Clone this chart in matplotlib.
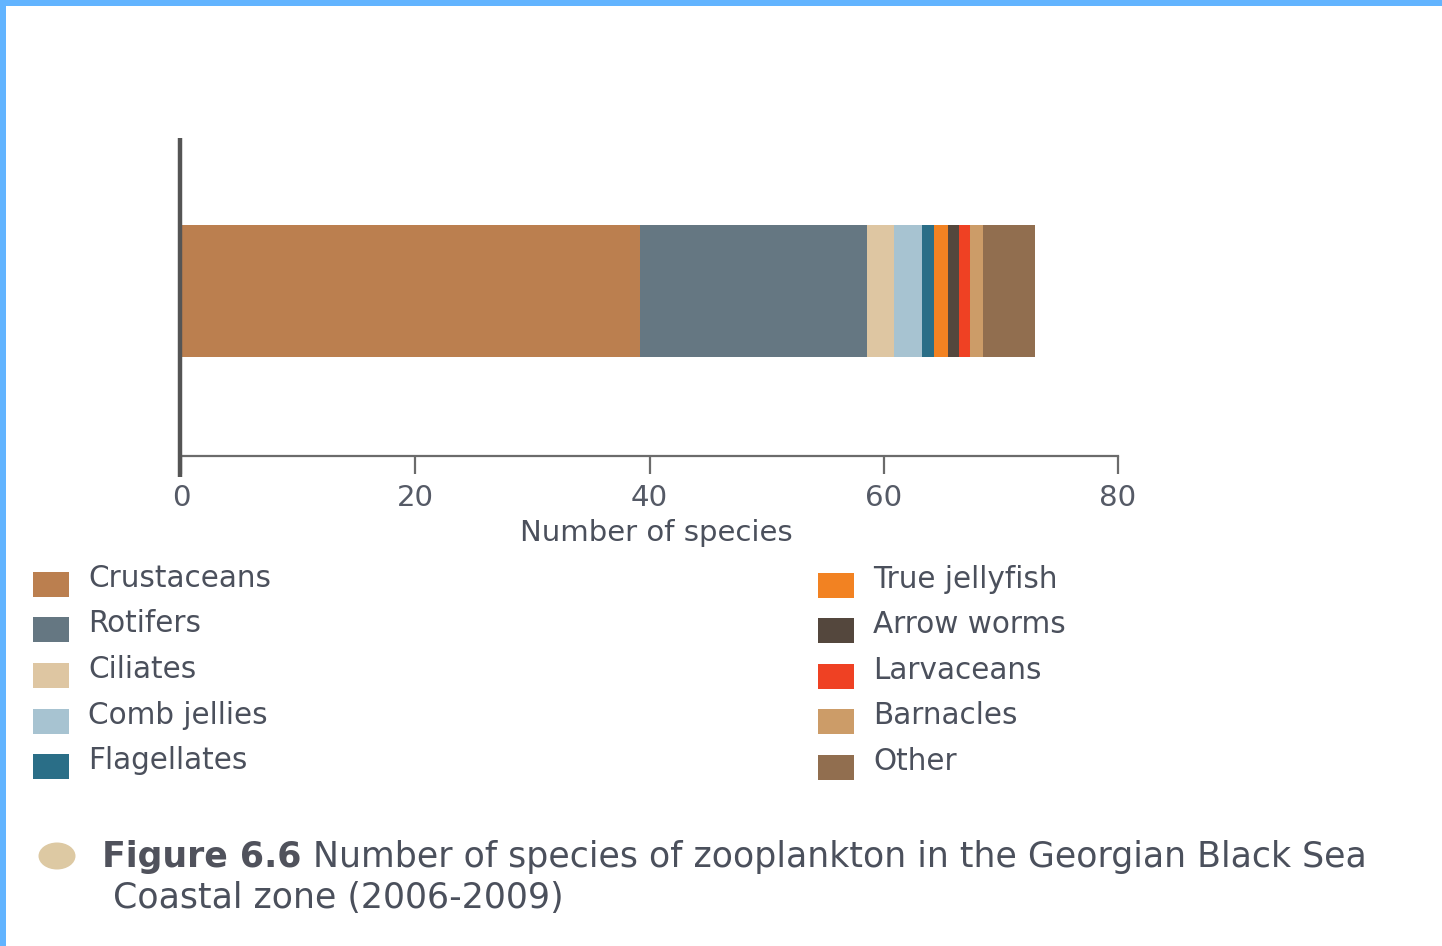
import matplotlib
matplotlib.use("Agg")
import matplotlib.pyplot as plt
from matplotlib.patches import Rectangle, Ellipse
from matplotlib.lines import Line2D

# Zooplankton species counts, Georgian Black Sea coastal zone (2006-2009)
groups = ["Crustaceans", "Rotifers", "Ciliates", "Comb jellies", "Flagellates",
          "True jellyfish", "Arrow worms", "Larvaceans", "Barnacles", "Other"]
species = [39.2, 19.4, 2.3, 2.4, 0.95, 1.2, 0.95, 0.95, 1.1, 4.5]
colors = ["#bb7f4f", "#657782", "#dec6a2", "#a7c3d1", "#2a6e87",
          "#f28222", "#54473d", "#ef4123", "#cc9c68", "#916e4f"]
xticks = [0, 20, 40, 60, 80]
xlabel = "Number of species"
caption_bold = "Figure 6.6"
caption_line1 = " Number of species of zooplankton in the Georgian Black Sea"
caption_line2 = "Coastal zone (2006-2009)"

FONT = "DejaVu Sans"
TEXT_COLOR = "#4b505c"

W, H = 1442, 946
fig = plt.figure(figsize=(W / 100, H / 100), dpi=100)
fig.patch.set_facecolor("white")
renderer = fig.canvas.get_renderer()


def fx(px):
    return px / W


def fy(py):
    return 1 - py / H


def fit_size(text, width_px, weight="normal", shrink=0.97):
    """Font size that makes `text` about `width_px` pixels wide."""
    probe = fig.text(0, 0, text, fontsize=10, family=FONT, fontweight=weight)
    w = probe.get_window_extent(renderer).width
    probe.remove()
    return 10 * width_px / w * shrink


# Plot area
ax_l, ax_r, ax_t, ax_b = 181, 1118, 138, 456
ax = fig.add_axes([fx(ax_l), fy(ax_b), fx(ax_r - ax_l), (ax_b - ax_t) / H])
ax.set_xlim(0, 80)
ax.set_ylim(0, 1)

left = 0
for g, v, c in zip(groups, species, colors):
    ax.barh(0.519, v, left=left, height=0.415, color=c, edgecolor="none")
    left += v

for s in ["top", "right", "left"]:
    ax.spines[s].set_visible(False)
ax.spines["bottom"].set_color("#6b6b6b")
ax.spines["bottom"].set_linewidth(1.6)
ax.set_yticks([])
ax.set_xticks(xticks)
ax.set_xticklabels([str(t) for t in xticks])
tick_size = fit_size("80", 39, shrink=0.95)
ax.tick_params(axis="x", direction="out", length=13, width=1.6, color="#6b6b6b",
               pad=7, labelsize=tick_size, labelcolor="#555a66")

# Vertical axis line, extending slightly below the baseline
fig.add_artist(Line2D([fx(180), fx(180)], [fy(138), fy(477)], color="#555555",
                      linewidth=3.2, solid_capstyle="butt"))

# Axis title
fig.text(fx(656), fy(541), xlabel, fontsize=fit_size(xlabel, 280), color=TEXT_COLOR,
         family=FONT, ha="center", va="baseline")

# Legend in two columns
legend_size = fit_size("Crustaceans", 187, shrink=0.98)
left_rows = [584, 629, 675, 721, 766]
right_rows = [585, 630, 676, 721, 767]
for i in range(5):
    for col_x, rows, idx in ((33, left_rows, i), (818, right_rows, i + 5)):
        yc = rows[i]
        fig.add_artist(Rectangle((fx(col_x), fy(yc + 12.5)), fx(36), 25 / H,
                                 facecolor=colors[idx], edgecolor="none"))
        fig.text(fx(col_x + 55), fy(yc + 3), groups[idx], fontsize=legend_size,
                 color=TEXT_COLOR, family=FONT, va="baseline")

# Caption
cap_size = fit_size(caption_bold + caption_line1, 1263, shrink=0.98)
fig.add_artist(Ellipse((fx(57), fy(856)), fx(37), 27 / H, facecolor="#ddc9a3",
                       edgecolor="none"))
t1 = fig.text(fx(102), fy(867), caption_bold, fontsize=cap_size, fontweight="bold",
              color="#50525c", family=FONT, va="baseline")
bb = t1.get_window_extent(renderer)
fig.text(bb.x1 / W, fy(867), caption_line1, fontsize=cap_size, color=TEXT_COLOR,
         family=FONT, va="baseline")
fig.text(fx(113), fy(908), caption_line2, fontsize=cap_size, color=TEXT_COLOR,
         family=FONT, va="baseline")

# Blue frame on top and left edges
fig.add_artist(Rectangle((0, fy(6)), 1, 6 / H, facecolor="#62b4ff", edgecolor="none"))
fig.add_artist(Rectangle((0, 0), fx(6), 1, facecolor="#62b4ff", edgecolor="none"))

fig.savefig("out.png", dpi=100, facecolor="white")
